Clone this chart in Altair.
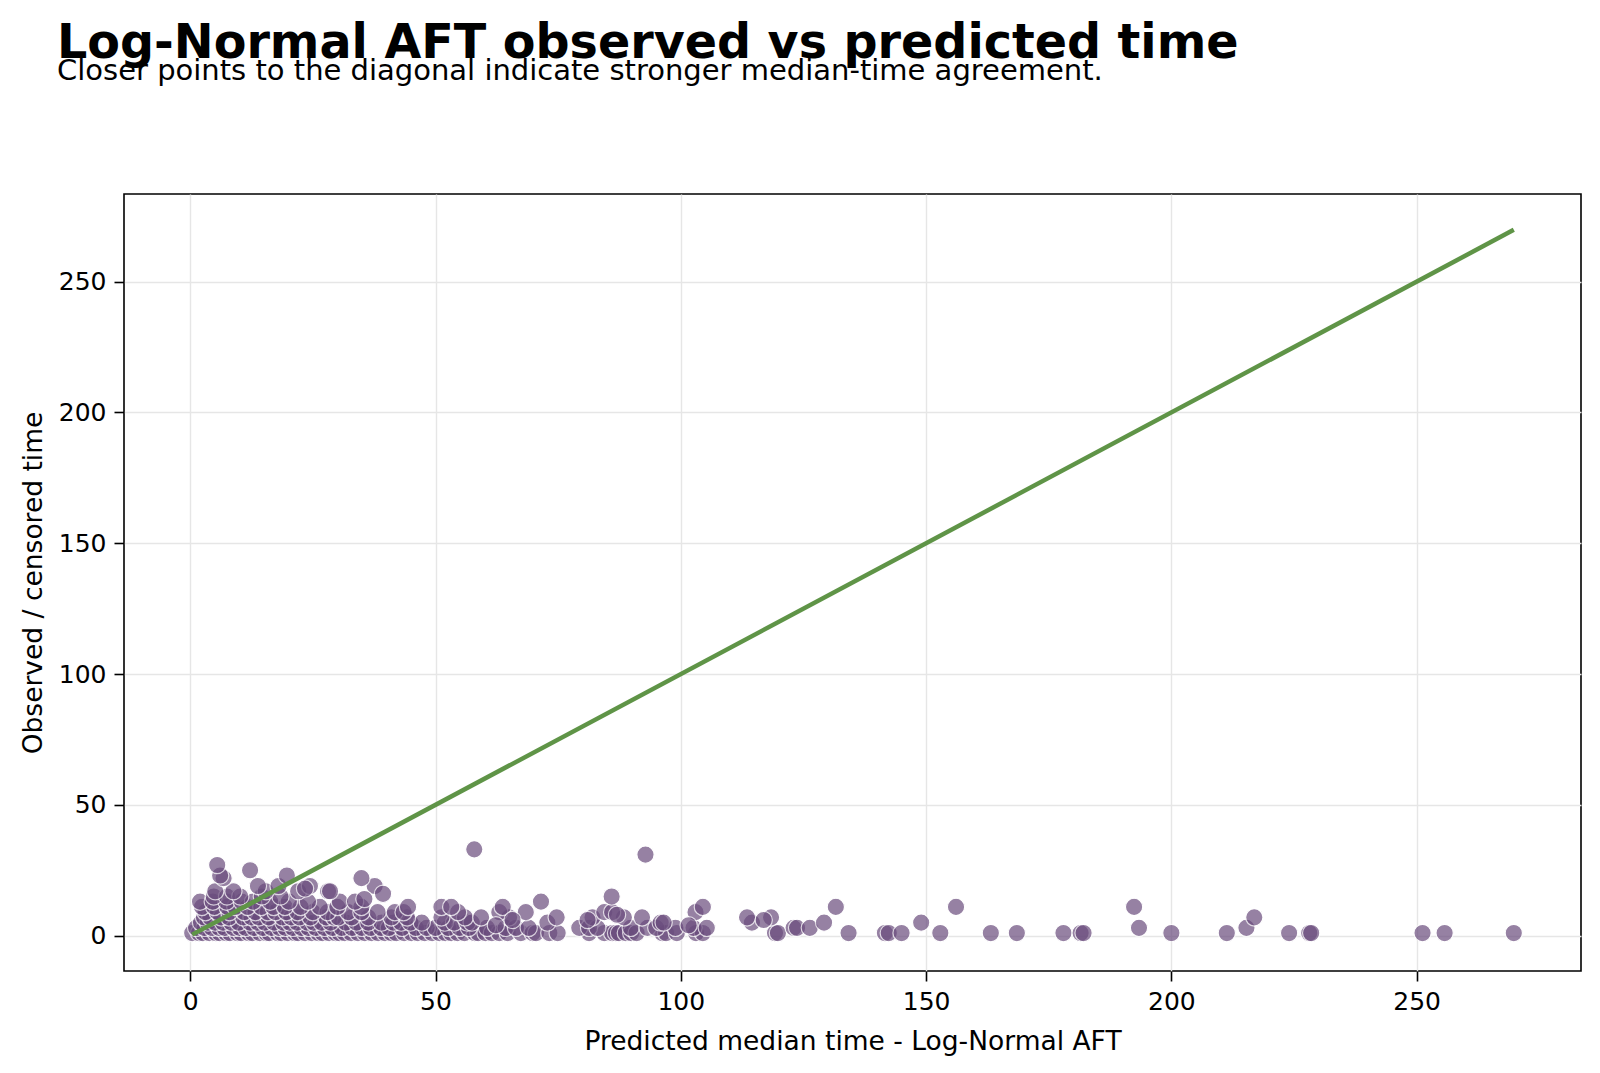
import altair as alt
import pandas as pd

# Predicted median times grouped by their observed / censored time level
pred_at_obs1 = [0.4, 1.8, 2.6, 3.9, 5.2, 6.0, 7.3, 8.1, 9.6, 10.4, 11.9, 12.7, 14.2, 15.5, 16.1, 17.8,
                18.6, 19.9, 21.3, 22.0, 23.4, 24.8, 26.1, 27.0, 28.3, 29.6,
                30.4, 31.5, 32.8, 34.2, 35.6, 37.0, 38.3, 39.7, 41.0, 42.0, 43.6, 45.1, 46.4, 47.8,
                49.3, 50.8, 52.0, 53.2, 54.5, 55.9,
                58.0, 58.7, 60.2, 61.5, 63.0, 64.7, 67.4, 69.8, 70.5, 73.2, 74.9,
                81.3, 84.4, 86.0, 86.8, 87.4, 88.8, 89.9, 91.0, 96.2, 97.0, 99.2, 103.1, 104.5,
                119.2, 119.8, 134.2, 141.6, 142.4, 145.0, 152.9, 163.2, 168.5, 178.0, 181.5, 182.1,
                200.0, 211.3, 224.0, 228.1, 228.5, 251.2, 255.7, 269.8]
pred_at_obs3 = [1.2, 2.9, 4.4, 5.9, 7.0, 8.8, 10.1, 11.3, 13.0, 14.8, 16.6, 18.2, 19.4, 20.9, 22.7,
                24.1, 25.6, 27.4, 29.0,
                30.9, 33.0, 35.0, 36.8, 38.9, 40.5, 43.2, 46.0, 48.2, 50.0, 52.6, 54.9, 56.8,
                60.5, 64.3, 66.4, 69.0,
                79.3, 81.3, 83.0, 89.8, 93.2, 95.0, 98.9, 102.6, 105.3,
                123.0, 123.7, 126.3, 193.4, 215.3]
pred_at_obs5 = [2.2, 3.6, 5.1, 6.7, 8.4, 9.9, 12.2, 13.8, 15.2, 17.1, 19.0, 20.3, 21.8, 23.9, 25.2,
                26.8, 28.6,
                31.7, 33.9, 36.3, 39.0, 41.4, 43.0, 44.9, 47.2, 51.9, 53.8, 56.5,
                57.4, 72.8, 95.9, 96.5, 114.5, 129.2, 149.0]
pred_at_obs7 = [2.8, 4.1, 6.3, 7.9, 10.8, 12.5, 14.0, 16.0, 18.8, 20.6, 22.3, 24.5, 27.7, 29.3,
                30.2, 32.9, 36.3, 41.0, 44.2, 51.2, 56.0,
                59.3, 65.0, 74.7, 82.0, 88.4, 92.1, 113.5, 118.4, 216.9]
pred_at_obs9 = [3.1, 5.6, 8.0, 11.0, 13.3, 15.8, 17.4, 19.6, 21.9, 25.0, 28.0,
                32.2, 34.9, 38.2, 41.7, 43.5, 54.6, 63.0, 68.4, 84.4, 86.0, 103.0]
pred_at_obs11 = [2.4, 4.9, 7.6, 9.2, 11.7, 14.5, 17.0, 19.3, 22.5, 26.4,
                 30.0, 34.9, 44.4, 51.2, 53.2, 63.7, 104.5, 131.6, 156.1, 192.4]
pred_at_obs13 = [2.0, 4.6, 7.4, 10.5, 12.8, 16.3, 20.1, 24.0, 30.5, 33.6, 71.5]
pred_at_obs15 = [4.8, 7.5, 10.2, 14.6, 18.4, 85.9]
pred_at_obs17 = [5.1, 8.8, 15.4, 22.0, 28.1, 28.5]
pred_at_obs19 = [13.8, 18.0, 24.4, 37.6]

# Remaining individual points
other_pred = [6.8, 6.1, 19.7, 23.4, 12.2, 5.5, 35.5, 39.3, 34.9, 57.9, 65.7, 62.3, 101.6, 81.0, 87.0, 116.9, 92.8]
other_obs = [22, 23, 23, 18, 25, 27, 14, 16, 22, 33, 6, 4, 4, 6, 8, 6, 31]

levels = [(1, pred_at_obs1), (3, pred_at_obs3), (5, pred_at_obs5), (7, pred_at_obs7),
          (9, pred_at_obs9), (11, pred_at_obs11), (13, pred_at_obs13), (15, pred_at_obs15),
          (17, pred_at_obs17), (19, pred_at_obs19)]

rows = []
for obs, preds in levels:
    for p in preds:
        rows.append({"pred": p, "obs": obs})
for p, o in zip(other_pred, other_obs):
    rows.append({"pred": p, "obs": o})
df = pd.DataFrame(rows)

lo = float(min(df["pred"].min(), df["obs"].min()))
hi = float(max(df["pred"].max(), df["obs"].max()))
line_df = pd.DataFrame({"pred": [lo, hi], "obs": [lo, hi]})

domain = [-13.5, 283.5]
ticks = [0, 50, 100, 150, 200, 250]
FONT = "DejaVu Sans"

xenc = alt.X("pred:Q", scale=alt.Scale(domain=domain, nice=False, zero=False),
             axis=alt.Axis(values=ticks, title="Predicted median time - Log-Normal AFT",
                           labelFontSize=25, titleFontSize=26.5, titlePadding=14))
yenc = alt.Y("obs:Q", scale=alt.Scale(domain=domain, nice=False, zero=False),
             axis=alt.Axis(values=ticks, title="Observed / censored time",
                           labelFontSize=25, titleFontSize=26.5, titlePadding=11))

points = alt.Chart(df).mark_circle(size=300, color="#6a4c7d", opacity=0.7,
                                   stroke="white", strokeWidth=1.2).encode(x=xenc, y=yenc)
diag = alt.Chart(line_df).mark_line(color="#5f9447", strokeWidth=4.5).encode(x="pred:Q", y="obs:Q")

chart = (points + diag).properties(
    width=1457, height=777,
    padding={"left": 124, "top": 194, "right": 19, "bottom": 102},
    autosize=alt.AutoSizeParams(type="none"),
    title=alt.TitleParams(
        text="Log-Normal AFT observed vs predicted time",
        subtitle="Closer points to the diagonal indicate stronger median-time agreement.",
        anchor="start", frame="group", dx=-67, offset=108,
        font=FONT, fontSize=47.6, fontWeight="bold", color="black",
        subtitleFont=FONT, subtitleFontSize=29, subtitleColor="black", subtitlePadding=-11,
    ),
).configure(font=FONT, background="white").configure_view(
    stroke="black", strokeWidth=1.6
).configure_axis(
    labelFont=FONT, titleFont=FONT, labelColor="black", titleColor="black",
    titleFontWeight="normal", domain=False, tickColor="black", tickWidth=1.6,
    tickSize=10, labelPadding=8, gridColor="#e6e6e6", gridWidth=1.4,
)

chart.save("out.html", embed_options={"renderer": "svg", "actions": False})
